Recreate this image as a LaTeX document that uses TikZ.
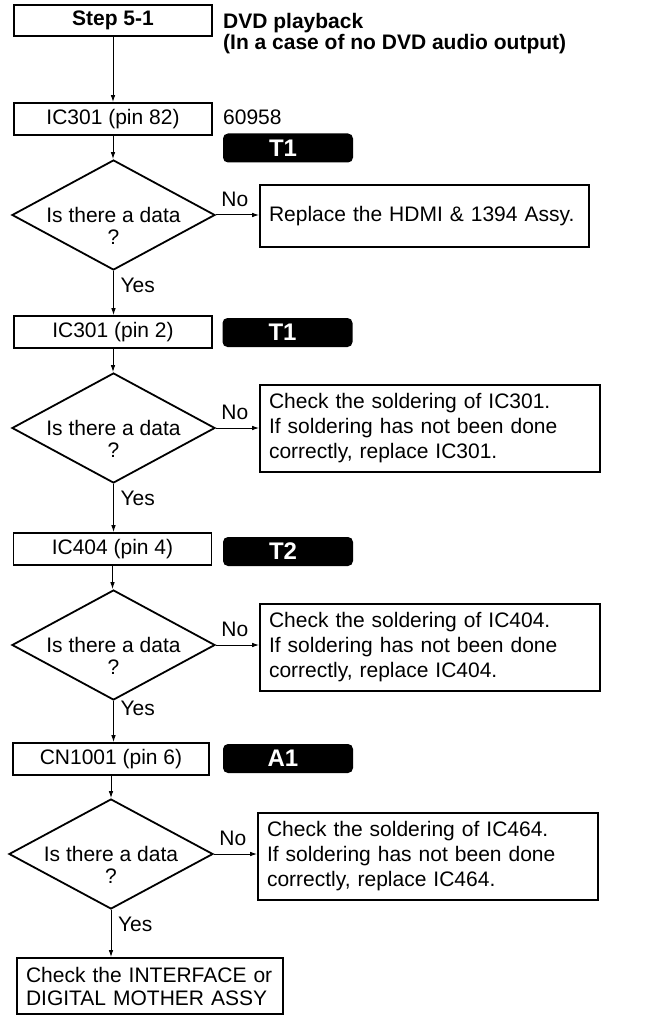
\documentclass[tikz,border=0pt]{standalone}
\usepackage{fontspec}
\setmainfont{Liberation Sans}
\usepackage{tikz}
\usetikzlibrary{arrows.meta,calc,positioning,shapes.geometric}
\tikzset{
  >={Latex[length=7pt,width=4.6pt]},
  lbl/.style={font=\fontsize{21}{23}\selectfont, inner sep=0pt},
  ttl/.style={font=\fontsize{21}{21}\selectfont\bfseries, inner sep=0pt},
  pinbox/.style={draw, line width=1.8pt, minimum width=198pt, minimum height=32pt,
    inner sep=0pt, font=\fontsize{21}{25}\selectfont},
  notebox/.style={draw, line width=1.8pt, inner xsep=9pt, inner ysep=0pt,
    align=left, font=\fontsize{21}{25}\selectfont},
  query/.style={draw, diamond, line width=1.8pt, minimum width=203pt,
    minimum height=110pt, inner sep=0pt},
  qtext/.style={align=center, inner sep=0pt, font=\fontsize{21}{22}\selectfont},
  badge/.style={fill=black, rounded corners=5pt, text=white, minimum width=130pt,
    minimum height=29pt, inner sep=0pt, font=\fontsize{24}{24}\selectfont\bfseries,
    execute at end node=\kern10pt},
  arr/.style={->, line width=1pt},
  nolbl/.style={lbl, pos=0, anchor=base west, xshift=5pt, yshift=8.5pt},
  yeslbl/.style={lbl, pos=0, anchor=base west, xshift=6.5pt, yshift=-22pt},
}
\begin{document}
\begin{tikzpicture}[x=1pt, y=-1pt]
\useasboundingbox (0,0) rectangle (647,1024);
% header
\node[pinbox, minimum height=31pt, font=\fontsize{21}{25}\selectfont\bfseries] (s0) at (113,20.5) {Step 5-1};
\node[ttl, anchor=north west, align=left] (head) at (223,12.7) {DVD playback\\(In a case of no DVD audio output)};
% IC301 pin 82
\node[pinbox] (p1) at (113,119) {IC301 (pin 82)};
\node[lbl, anchor=base west] (fs) at (223,125) {60958};
\node[badge] (t1a) at (288,148) {T1};
\node[query] (d1) at (113.5,215) {};
\node[qtext] (q1) at ($(d1)+(0,10.5)$) {Is there a data\\?};
\node[notebox, text width=311pt, minimum height=62pt] (r1) at (424.5,216) {Replace the HDMI \& 1394 Assy.};
% IC301 pin 2
\node[pinbox] (p2) at (113,332) {IC301 (pin 2)};
\node[badge] (t1b) at (287.5,332.5) {T1};
\node[query] (d2) at (113.5,428) {};
\node[qtext] (q2) at ($(d2)+(0,10.5)$) {Is there a data\\?};
\node[notebox, text width=322pt, minimum height=87pt] (r2) at (430,428.5) {Check the soldering of IC301.\\If soldering has not been done\\correctly, replace IC301.};
% IC404 pin 4
\node[pinbox] (p3) at (112.5,549) {IC404 (pin 4)};
\node[badge] (t2) at (288,551.5) {T2};
\node[query] (d3) at (113.5,645) {};
\node[qtext] (q3) at ($(d3)+(0,10.5)$) {Is there a data\\?};
\node[notebox, text width=322pt, minimum height=87pt] (r3) at (430,647.5) {Check the soldering of IC404.\\If soldering has not been done\\correctly, replace IC404.};
% CN1001 pin 6
\node[pinbox, minimum width=196pt] (p4) at (111,759) {CN1001 (pin 6)};
\node[badge] (a1) at (288,758.5) {A1};
\node[query, minimum width=204pt] (d4) at (111,854) {};
\node[qtext] (q4) at ($(d4)+(0,10.5)$) {Is there a data\\?};
\node[notebox, text width=322pt, minimum height=87pt] (r4) at (428,856.5) {Check the soldering of IC464.\\If soldering has not been done\\correctly, replace IC464.};
\node[notebox, font=\fontsize{21}{23}\selectfont, text width=248pt, minimum height=56pt] (fin) at (150,986) {Check the INTERFACE or\\DIGITAL MOTHER ASSY};
% connectors
\draw[arr] (s0.south) -- (s0.south |- p1.north);
\draw[arr] (p1.south) -- (p1.south |- d1.north);
\draw[arr] (d1.east) -- node[nolbl] (n1) {No} (d1.east -| r1.west);
\draw[arr] (d1.south) -- node[yeslbl] (y1) {Yes} (d1.south |- p2.north);
\draw[arr] (p2.south) -- (p2.south |- d2.north);
\draw[arr] (d2.east) -- node[nolbl] (n2) {No} (d2.east -| r2.west);
\draw[arr] (d2.south) -- node[yeslbl] (y2) {Yes} (d2.south |- p3.north);
\draw[arr] (p3.south) -- (p3.south |- d3.north);
\draw[arr] (d3.east) -- node[nolbl] (n3) {No} (d3.east -| r3.west);
\draw[arr] (d3.south) -- node[yeslbl, yshift=7pt] (y3) {Yes} (d3.south |- p4.north);
\draw[arr] (p4.south) -- (p4.south |- d4.north);
\draw[arr] (d4.east) -- node[nolbl] (n4) {No} (d4.east -| r4.west);
\draw[arr] (d4.south) -- node[yeslbl] (y4) {Yes} (d4.south |- fin.north);
\end{tikzpicture}
\end{document}
